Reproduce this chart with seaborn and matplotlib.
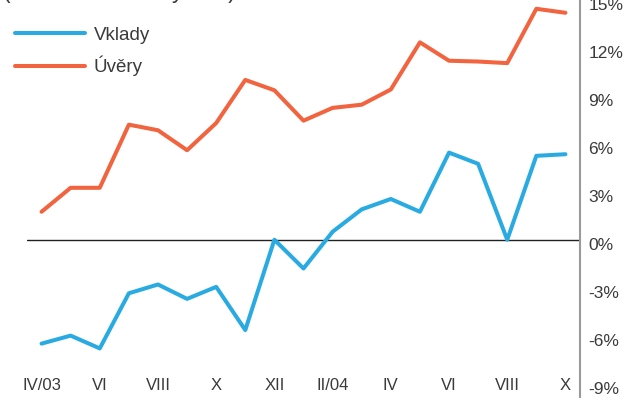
import matplotlib
matplotlib.use("Agg")
import matplotlib.pyplot as plt
import matplotlib.transforms as mtransforms
import numpy as np
import pandas as pd
import seaborn as sns

# Monthly observations, April 2003 - October 2004
months = ["IV/03", "V", "VI", "VII", "VIII", "IX", "X", "XI", "XII",
          "I/04", "II/04", "III", "IV", "V", "VI", "VII", "VIII", "IX", "X"]
tick_labels = ["IV/03", "VI", "VIII", "X", "XII", "II/04", "IV", "VI", "VIII", "X"]

vklady = [-6.5, -6.0, -6.8, -3.35, -2.8, -3.7, -2.95, -5.65, 0.0, -1.8,
          0.5, 1.9, 2.55, 1.75, 5.45, 4.75, 0.0, 5.25, 5.35]
uvery = [1.75, 3.25, 3.25, 7.2, 6.85, 5.6, 7.3, 10.0, 9.35, 7.45,
         8.25, 8.45, 9.4, 12.35, 11.2, 11.15, 11.05, 14.45, 14.2]

series_names = ["Vklady", "Úvěry"]
colors = {"Vklady": "#29abe2", "Úvěry": "#f1643f"}

df = pd.DataFrame({
    "idx": list(range(len(months))) * 2,
    "value": vklady + uvery,
    "series": ["Vklady"] * len(months) + ["Úvěry"] * len(months),
})

sns.set_theme(style="white")
plt.rcParams["font.family"] = ["Liberation Sans", "DejaVu Sans"]
text_color = "#3a3a3a"

W, H = 627, 409
fig = plt.figure(figsize=(W / 100, H / 100), dpi=100)
ax = fig.add_axes([27 / W, 12 / H, (580 - 27) / W, 397 / H])

sns.lineplot(data=df, x="idx", y="value", hue="series", hue_order=series_names,
             palette=colors, linewidth=2.9, ax=ax, legend=True, sort=False)

ax.axhline(0, color="#222222", lw=1.0, zorder=1)

ax.set_xlim(-0.5, 18.5)
ax.set_ylim(-9.84, 15.0)

# y axis on the right, percent labels
ax.yaxis.tick_right()
ax.set_yticks(np.arange(-9, 16, 3))
ax.set_yticklabels([f"{v}%" for v in range(-9, 16, 3)])
ax.tick_params(axis="y", length=0, pad=6, labelsize=12.5, labelcolor=text_color)
offset = mtransforms.ScaledTranslation(0, -4 / 100, fig.dpi_scale_trans)
for lab in ax.get_yticklabels():
    lab.set_transform(lab.get_transform() + offset)

# x labels every second month, drawn inside the plot area
ax.set_xticks(range(0, len(months), 2))
ax.set_xticklabels(tick_labels)
ax.tick_params(axis="x", length=0, pad=-14, labelsize=12, labelcolor=text_color)

ax.set_xlabel("")
ax.set_ylabel("")
for side in ["top", "left", "bottom"]:
    ax.spines[side].set_visible(False)
ax.spines["right"].set_color("#9a9a9a")
ax.spines["right"].set_linewidth(1.5)

leg = ax.legend(loc="upper left", bbox_to_anchor=(-0.035, 0.952), frameon=False,
                fontsize=13.5, handlelength=3.75, handletextpad=0.43,
                labelspacing=0.65, borderaxespad=0)
for t in leg.get_texts():
    t.set_color(text_color)
for h in leg.get_lines():
    h.set_linewidth(2.9)

fig.text(3 / W, 1 + 2 / H, "(meziroční změny v %)", ha="left", va="baseline",
         fontsize=16.5, color=text_color)

fig.savefig("out.png", dpi=100)
